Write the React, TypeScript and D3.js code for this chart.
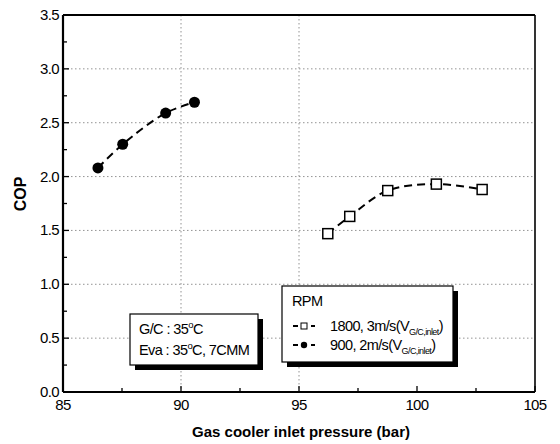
import React from "react";
import * as d3 from "d3";

const seriesSquareX = [96.22, 97.15, 98.76, 100.82, 102.76];
const seriesSquareY = [1.47, 1.63, 1.87, 1.93, 1.88];
const seriesCircleX = [86.48, 87.53, 89.35, 90.57];
const seriesCircleY = [2.08, 2.3, 2.59, 2.69];
const xTicks = [85, 90, 95, 100, 105];
const yTicks = [0.0, 0.5, 1.0, 1.5, 2.0, 2.5, 3.0, 3.5];
const xGrid = [90, 95];

const FONT = "'Liberation Sans', Arial, sans-serif";

export default function App() {
  const W = 560, H = 444;
  const L = 63, R = 535, T = 15, B = 392;
  const x = d3.scaleLinear().domain([85, 105]).range([L, R]);
  const y = d3.scaleLinear().domain([0, 3.5]).range([B, T]);
  const line = d3
    .line<[number, number]>()
    .x((d) => x(d[0]))
    .y((d) => y(d[1]))
    .curve(d3.curveCatmullRom.alpha(0.5));
  const sq = seriesSquareX.map((v, i) => [v, seriesSquareY[i]] as [number, number]);
  const ci = seriesCircleX.map((v, i) => [v, seriesCircleY[i]] as [number, number]);
  const xMinor = d3.range(85, 105.01, 2.5);
  const yMinor = d3.range(0, 3.501, 0.25);

  return (
    <svg width={W} height={H} style={{ position: "absolute", left: 0, top: 0, background: "#fff" }}>
      <rect x={0} y={0} width={W} height={H} fill="#fff" />
      {/* grid */}
      {yTicks.filter((t) => t > 0 && t < 3.5).map((t) => (
        <line key={"gy" + t} x1={L} x2={R} y1={y(t)} y2={y(t)} stroke="#777" strokeWidth={0.8} strokeDasharray="1.5,2.5" />
      ))}
      {xGrid.map((t) => (
        <line key={"gx" + t} x1={x(t)} x2={x(t)} y1={T} y2={B} stroke="#777" strokeWidth={0.8} strokeDasharray="1.5,2.5" />
      ))}
      {/* ticks */}
      {xMinor.map((t) => {
        const major = Math.abs(t - Math.round(t / 5) * 5) < 1e-6;
        return <line key={"tx" + t} x1={x(t)} x2={x(t)} y1={B} y2={B - (major ? 6 : 4)} stroke="#000" strokeWidth={1.3} />;
      })}
      {yMinor.map((t) => {
        const major = Math.abs(t * 2 - Math.round(t * 2)) < 1e-6;
        return <line key={"ty" + t} x1={L} x2={L + (major ? 6 : 4)} y1={y(t)} y2={y(t)} stroke="#000" strokeWidth={1.3} />;
      })}
      {/* frame */}
      <line x1={L} x2={R} y1={T} y2={T} stroke="#000" strokeWidth={2} />
      <line x1={R} x2={R} y1={T} y2={B} stroke="#000" strokeWidth={1.6} />
      <line x1={L} x2={R} y1={B} y2={B} stroke="#000" strokeWidth={2.2} />
      <line x1={L} x2={L} y1={T} y2={B} stroke="#000" strokeWidth={2.2} />
      {/* tick labels */}
      {xTicks.map((t) => (
        <text key={"lx" + t} x={x(t)} y={410} textAnchor="middle" fontFamily={FONT} fontSize={15} letterSpacing={-0.6}>
          {t}
        </text>
      ))}
      {yTicks.map((t) => (
        <text key={"ly" + t} x={59} y={y(t) + 5} textAnchor="end" fontFamily={FONT} fontSize={15} letterSpacing={-0.6}>
          {t.toFixed(1)}
        </text>
      ))}
      {/* axis titles */}
      <text x={301} y={437} textAnchor="middle" fontFamily={FONT} fontSize={15} fontWeight="bold" textLength={218} lengthAdjust="spacingAndGlyphs">
        Gas cooler inlet pressure (bar)
      </text>
      <text transform={`translate(26,194) rotate(-90)`} textAnchor="middle" fontFamily={FONT} fontSize={16} fontWeight="bold">
        COP
      </text>
      {/* series lines */}
      <path d={line(ci) || ""} fill="none" stroke="#000" strokeWidth={2} strokeDasharray="8,5" />
      <path d={line(sq) || ""} fill="none" stroke="#000" strokeWidth={2} strokeDasharray="8,5" />
      {ci.map((d, i) => (
        <circle key={"c" + i} cx={x(d[0])} cy={y(d[1])} r={5.5} fill="#000" />
      ))}
      {sq.map((d, i) => (
        <rect key={"s" + i} x={x(d[0]) - 5} y={y(d[1]) - 5} width={10} height={10} fill="#fff" stroke="#000" strokeWidth={1.5} />
      ))}
      {/* condition box */}
      <rect x={135} y={319} width={128} height={51} fill="#000" />
      <rect x={130} y={314} width={128} height={51} fill="#fff" stroke="#000" strokeWidth={1.2} />
      <text x={139} y={334} fontFamily={FONT} fontSize={14.5} letterSpacing={-0.6}>
        G/C : 35<tspan dy={-6} fontSize={9.5}>o</tspan><tspan dy={6}>C</tspan>
      </text>
      <text x={139} y={355} fontFamily={FONT} fontSize={14.5} letterSpacing={-0.6}>
        Eva : 35<tspan dy={-6} fontSize={9.5}>o</tspan><tspan dy={6}>C, 7CMM</tspan>
      </text>
      {/* legend */}
      <rect x={287} y={291} width={171} height={76} fill="#000" />
      <rect x={282} y={286} width={171} height={76} fill="#fff" stroke="#000" strokeWidth={1.2} />
      <text x={292} y={306} fontFamily={FONT} fontSize={14.5} letterSpacing={-0.6}>RPM</text>
      <line x1={293} x2={315} y1={326} y2={326} stroke="#000" strokeWidth={1.8} strokeDasharray="5,4" />
      <rect x={301} y={323} width={6} height={6} fill="#fff" stroke="#000" strokeWidth={1} />
      <text x={330} y={331} fontFamily={FONT} fontSize={14.5} letterSpacing={-0.6}>
        1800, 3m/s(V<tspan dy={4} fontSize={9}>G/C,inlet</tspan><tspan dy={-4}>)</tspan>
      </text>
      <line x1={293} x2={315} y1={345} y2={345} stroke="#000" strokeWidth={1.8} strokeDasharray="5,4" />
      <circle cx={304} cy={345} r={3.2} fill="#000" />
      <text x={330} y={350} fontFamily={FONT} fontSize={14.5} letterSpacing={-0.6}>
        900, 2m/s(V<tspan dy={4} fontSize={9}>G/C,inlet</tspan><tspan dy={-4}>)</tspan>
      </text>
    </svg>
  );
}
